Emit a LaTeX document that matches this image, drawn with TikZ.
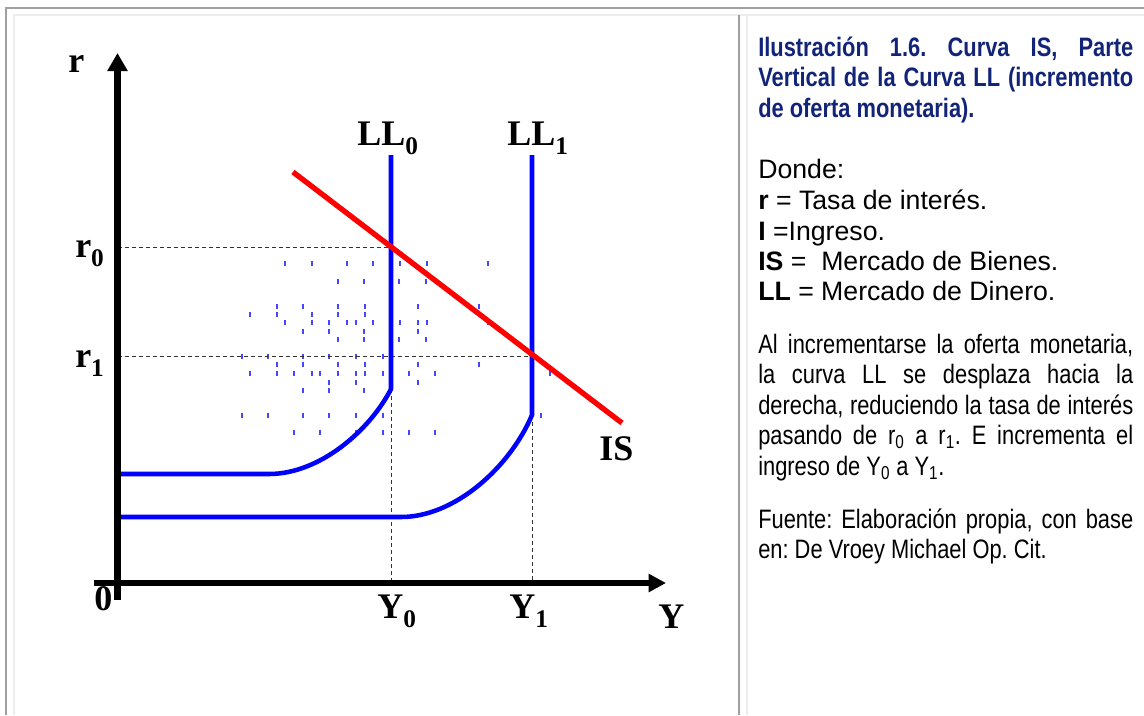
\documentclass[tikz,border=0pt]{standalone}
\usepackage{fontspec}
\setmainfont{Liberation Serif}
\newfontfamily\arial{Liberation Sans}
\newfontfamily\arialn[FakeStretch=0.82]{Liberation Sans}
\usetikzlibrary{arrows.meta}
\definecolor{navy}{RGB}{18,36,120}
\definecolor{frameD}{RGB}{160,160,160}
\definecolor{frameL}{RGB}{236,236,236}
\definecolor{tickblue}{RGB}{70,70,255}
\newcommand{\glab}[2]{\fontsize{27}{30}\selectfont\bfseries #1\raisebox{-7pt}{\fontsize{19}{20}\selectfont #2}}
\newcommand{\jline}[1]{\makebox[281.25pt][s]{#1}}
\frenchspacing
\begin{document}
\begin{tikzpicture}[x=0.75pt,y=-0.75pt,
  framedark/.style={frameD, line width=1.5pt},
  framelight/.style={frameL, line width=1.5pt},
  axisV/.style={line width=5pt, -{Triangle[length=13.5pt,width=14.5pt]}},
  axisH/.style={line width=4.2pt, -{Triangle[length=13pt,width=13pt]}},
  llcurve/.style={blue, line width=3.4pt, line join=round},
  iscurve/.style={red, line width=4pt},
  guide/.style={black!80, line width=0.75pt, dash pattern=on 3pt off 2.25pt},
  tickmark/.style={tickblue, line width=0.8pt},
  glabel/.style={inner sep=0pt, anchor=base west},
  ttl/.style={inner sep=0pt, anchor=base west, text=navy, font=\arialn\bfseries\fontsize{20}{22}\selectfont},
  rtext/.style={inner sep=0pt, anchor=base west, font=\arial\fontsize{20}{22}\selectfont},
  ntext/.style={inner sep=0pt, anchor=base west, font=\arialn\fontsize{20}{22}\selectfont}]
\useasboundingbox (0,0) rectangle (1144,715);
\fill[white] (0,0) rectangle (1144,715);
% frame
\coordinate (fTL) at (6,7.5); \coordinate (fTR) at (1144,7.5); \coordinate (fBL) at (6,715);
\draw[framedark] (fBL) -- (fTL) -- (fTR);
\coordinate (lTL) at (13.5,15); \coordinate (lTR) at (1144,15); \coordinate (lBL) at (13.5,715);
\draw[framelight] (lBL) -- (lTL) -- (lTR);
\coordinate (dT) at (739,15); \coordinate (dB) at (739,715);
\draw[framedark] (dT) -- (dB);
\coordinate (eT) at (747,15); \coordinate (eB) at (747,715);
\draw[framelight] (eT) -- (eB);
% scattered ticks
\foreach \yy/\xs in {263/{285,312,347,373,400,427,488},
  281/{338,364,399,426},
  306/{277,303,338,365,418,479},
  314/{250,277,312,338,365},
  322/{285,312,329,347,356,373,400,418,427,488},
  331/{303,329,364,418},
  339/{338,364,399,426},
  356/{242,268,303,329,356,383},
  364/{277,303,338,365,418,479},
  373/{250,277,294,312,320,338,356,365,383,409,435,550},
  382/{329,356,418},
  390/{303,329,364},
  415/{242,268,303,329,356,383,541},
  432/{294,320,356,383,409,435}}{
  \foreach \xx in \xs {\draw[tickmark] (\xx,\yy-2.5) -- (\xx,\yy+2.5);}
}
% key points
\coordinate (r0a) at (117.5,247); \coordinate (E0) at (391,247);
\coordinate (r1a) at (117.5,356); \coordinate (E1) at (532,356);
\coordinate (B0) at (391,389); \coordinate (Y0a) at (391,583);
\coordinate (B1) at (532,415); \coordinate (Y1a) at (532,583);
% guides
\draw[guide] (r0a) -- (E0);
\draw[guide] (r1a) -- (E1);
\draw[guide] (B0) -- (Y0a);
\draw[guide] (B1) -- (Y1a);
% LL curves
\coordinate (L0top) at (391,155); \coordinate (L0h) at (269,474); \coordinate (L0end) at (118,474);
\draw[llcurve] (L0top) -- (B0) .. controls (370,430) and (320,474) .. (L0h) -- (L0end);
\coordinate (L1top) at (532,155); \coordinate (L1h) at (401,517); \coordinate (L1end) at (118,517);
\draw[llcurve] (L1top) -- (B1) .. controls (510,467) and (455,517) .. (L1h) -- (L1end);
% IS
\coordinate (IS1) at (293,172); \coordinate (IS2) at (622,423);
\draw[iscurve] (IS1) -- (IS2);
% axes
\coordinate (yb) at (117.5,600); \coordinate (yt) at (117.5,53);
\coordinate (xl) at (94,583); \coordinate (xr) at (666,583);
\draw[axisV] (yb) -- (yt);
\draw[axisH] (xl) -- (xr);
% graph labels
\node[glabel] (lr) at (68,72) {\glab{r}{}};
\node[glabel] (lr0) at (75,257) {\glab{r}{0}};
\node[glabel] (lr1) at (75,367) {\glab{r}{1}};
\node[glabel] (lLL0) at (357,145) {\glab{LL}{0}};
\node[glabel] (lLL1) at (507,145) {\glab{LL}{1}};
\node[glabel] (lIS) at (599,460) {\glab{IS}{}};
\node[glabel] (l0) at (94,610) {\glab{0}{}};
\node[glabel] (lY0) at (377,618) {\glab{Y}{0}};
\node[glabel] (lY1) at (509,618) {\glab{Y}{1}};
\node[glabel] (lY) at (658,628) {\glab{Y}{}};
% right text
\node[ttl] (t1) at (758,56) {\jline{Ilustración 1.6. Curva IS, Parte}};
\node[ttl] (t2) at (758,86.5) {\jline{Vertical de la Curva LL (incremento}};
\node[ttl] (t3) at (758,117) {de oferta monetaria).};
\node[rtext] (d0) at (758,178) {Donde:};
\node[rtext] (d1) at (758,209) {\textbf{r} = Tasa de interés.};
\node[rtext] (d2) at (758,240) {\textbf{I} =Ingreso.};
\node[rtext] (d3) at (758,270) {\textbf{IS} = \ Mercado de Bienes.};
\node[rtext] (d4) at (758,300) {\textbf{LL} = Mercado de Dinero.};
\node[ntext] (p1) at (758,353) {\jline{Al incrementarse la oferta monetaria,}};
\node[ntext] (p2) at (758,383.5) {\jline{la curva LL se desplaza hacia la}};
\node[ntext] (p3) at (758,414) {\jline{derecha, reduciendo la tasa de interés}};
\node[ntext] (p4) at (758,444.5) {\jline{pasando de r\textsubscript{0} a r\textsubscript{1}. E incrementa el}};
\node[ntext] (p5) at (758,475) {ingreso de Y\textsubscript{0} a Y\textsubscript{1}.};
\node[ntext] (f1) at (758,528) {\jline{Fuente: Elaboración propia, con base}};
\node[ntext] (f2) at (758,558) {en: De Vroey Michael Op. Cit.};
\end{tikzpicture}
\end{document}
